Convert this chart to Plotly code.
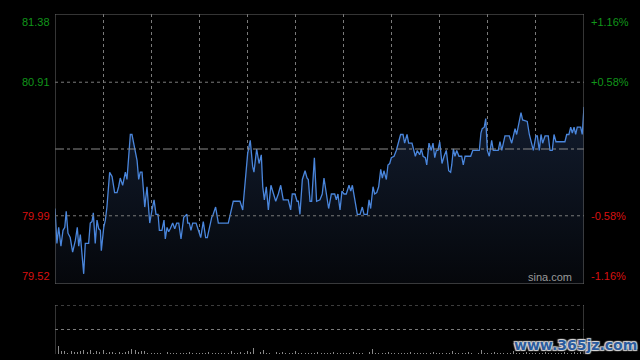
import plotly.graph_objects as go

# ---- data ----
prev_close = 80.45
y_ticks = [81.38, 80.91, 79.99, 79.52]
pct_labels = ["+1.16%", "+0.58%", "-0.58%", "-1.16%"]

minutes = [0, 1.2, 2.3, 3.7, 5.0, 6.1, 7.0, 8.1, 9.5, 11.0, 12.7, 13.9, 14.8, 15.8, 17.9, 18.9, 21.0, 22.0, 23.1, 23.9,
           25.1, 26.2, 27.3, 28.3, 28.9, 30.4, 31.4, 32.4, 34.1, 35.6, 37.2, 38.7, 39.7, 40.7, 42.2, 43.9, 44.9, 47.0, 48.0, 50.1,
           51.2, 52.2, 53.2, 54.3, 56.0, 57.4, 59.1, 60.5, 61.8, 63.0, 64.3, 65.1, 66.7, 68.0, 68.8, 69.9, 70.9, 71.9, 73.4, 74.7,
           75.9, 77.2, 78.6, 80.3, 82.3, 82.8, 83.8, 84.8, 85.9, 88.0, 89.4, 90.9, 92.5, 94.0, 95.0, 97.8, 98.7, 100.2, 101.9, 108.1,
           111.2, 115.4, 117.1, 118.5, 120.2, 121.8, 123.3, 124.1, 125.8, 127.3, 128.7, 129.6, 130.6, 131.8, 133.1, 134.7, 136.2, 137.7, 139.3, 140.8,
           142.4, 145.5, 147.0, 148.0, 149.7, 151.0, 151.8, 152.8, 154.3, 156.0, 157.2, 158.0, 159.1, 160.1, 161.8, 163.2, 165.3, 166.7, 167.8, 169.1,
           170.7, 172.4, 174.5, 175.5, 176.5, 177.8, 179.0, 180.3, 181.7, 183.4, 184.5, 185.5, 187.0, 188.6, 190.3, 191.7, 192.8, 194.8, 195.9, 196.9,
           198.4, 199.4, 200.7, 201.9, 203.2, 204.2, 205.2, 206.7, 207.7, 208.8, 209.8, 211.5, 212.9, 214.0, 215.6, 217.1, 218.1, 219.6, 220.6, 222.7,
           224.8, 226.0, 227.5, 228.5, 229.6, 231.0, 231.9, 233.3, 234.7, 235.8, 236.9, 237.9, 238.9, 240.0, 241.4, 242.7, 244.1, 245.6, 246.8, 247.5,
           248.5, 249.5, 250.6, 252.0, 253.7, 254.7, 255.8, 259.3, 260.6, 264.7, 265.7, 266.5, 267.8, 268.7, 269.7, 270.9, 272.4, 273.4, 276.5, 277.6,
           278.7, 280.7, 283.4, 284.9, 287.0, 288.0, 289.4, 290.7, 291.7, 294.6, 295.9, 297.4, 298.4, 300.0, 300.9, 302.1, 303.2, 304.2, 305.7, 307.7,
           308.8, 310.2, 311.3, 312.5, 318.1, 319.2, 320.6, 321.7, 322.7, 323.8, 324.8, 325.8, 327.9, 328.9, 330]

price = [80.04, 79.80, 79.91, 79.78, 79.89, 79.91, 80.02, 79.87, 79.84, 79.74,
         79.82, 79.91, 79.78, 79.86, 79.59, 79.80, 79.80, 79.94, 79.95, 80.01,
         79.80, 79.96, 79.90, 79.89, 79.75, 79.91, 79.96, 80.05, 80.29, 80.26,
         80.15, 80.15, 80.19, 80.25, 80.20, 80.29, 80.24, 80.55, 80.55, 80.44,
         80.37, 80.24, 80.29, 80.29, 80.05, 80.19, 79.94, 80.03, 80.10, 80.00,
         80.00, 79.89, 79.89, 79.96, 79.83, 79.91, 79.88, 79.90, 79.94, 79.90,
         79.94, 79.94, 79.83, 79.98, 80.00, 79.94, 79.94, 79.89, 79.94, 79.94,
         79.89, 79.84, 79.95, 79.84, 79.84, 79.98, 80.00, 80.05, 79.94, 79.94,
         80.09, 80.09, 80.03, 80.19, 80.42, 80.51, 80.33, 80.29, 80.45, 80.35,
         80.41, 80.19, 80.10, 80.19, 80.03, 80.20, 80.14, 80.09, 80.14, 80.20,
         80.10, 80.10, 80.03, 80.14, 80.14, 80.09, 80.09, 80.00, 80.24, 80.30,
         80.25, 80.24, 80.09, 80.09, 80.39, 80.09, 80.10, 80.14, 80.25, 80.14,
         80.04, 80.14, 80.14, 80.10, 80.14, 80.03, 80.16, 80.14, 80.14, 80.20,
         80.16, 80.20, 80.10, 80.00, 80.00, 80.05, 80.00, 80.00, 80.10, 80.04,
         80.19, 80.14, 80.15, 80.19, 80.31, 80.25, 80.30, 80.24, 80.34, 80.35,
         80.39, 80.40, 80.44, 80.49, 80.55, 80.55, 80.49, 80.55, 80.49, 80.49,
         80.40, 80.44, 80.41, 80.45, 80.40, 80.39, 80.34, 80.49, 80.44, 80.49,
         80.39, 80.44, 80.44, 80.50, 80.35, 80.40, 80.44, 80.30, 80.29, 80.34,
         80.45, 80.40, 80.44, 80.40, 80.40, 80.34, 80.40, 80.40, 80.44, 80.44,
         80.56, 80.59, 80.60, 80.66, 80.44, 80.40, 80.51, 80.44, 80.44, 80.50,
         80.44, 80.54, 80.54, 80.49, 80.59, 80.55, 80.64, 80.70, 80.65, 80.64,
         80.55, 80.48, 80.44, 80.54, 80.54, 80.44, 80.55, 80.49, 80.54, 80.54,
         80.44, 80.44, 80.55, 80.50, 80.50, 80.55, 80.55, 80.60, 80.56, 80.60,
         80.55, 80.60, 80.60, 80.55, 80.74]

# volume every 2 minutes
volume = [2, 8, 3, 3, 1, 3, 2, 2, 3, 4,
          2, 4, 1, 3, 2, 4, 1, 2, 2, 1,
          2, 1, 2, 3, 5, 4, 2, 3, 3, 1,
          1, 1, 1, 1, 1, 2, 1, 1, 1, 1,
          1, 1, 2, 1, 1, 1, 1, 1, 2, 1,
          1, 1, 1, 1, 1, 3, 1, 1, 2, 1,
          3, 2, 6, 1, 2, 4, 1, 1, 1, 2,
          1, 2, 1, 1, 1, 3, 1, 1, 1, 1,
          1, 1, 2, 1, 1, 1, 1, 2, 1, 1,
          1, 1, 1, 2, 1, 1, 1, 1, 2, 5,
          1, 1, 1, 1, 2, 1, 1, 1, 1, 1,
          1, 2, 1, 1, 1, 1, 1, 1, 2, 1,
          1, 1, 1, 1, 3, 1, 1, 1, 1, 2,
          1, 1, 1, 4, 1, 1, 1, 2, 1, 1,
          1, 1, 1, 3, 1, 1, 1, 2, 1, 1,
          1, 1, 1, 2, 1, 1, 1, 1, 1, 2,
          1, 1, 2, 1, 2, 1]
vol_minutes = [2 * i for i in range(len(volume))]

n = min(len(minutes), len(price))
minutes = minutes[:n]
price = price[:n]

GREEN = "#11961a"
RED = "#d81010"
GRID = "#7a7a7a"
BORDER = "#6a6a6a"
LINE = "#4a86dc"

fig = go.Figure()

# baseline for fill
fig.add_trace(go.Scatter(x=[minutes[0], minutes[-1]], y=[y_ticks[-1], y_ticks[-1]], mode="lines",
                         line=dict(width=0), hoverinfo="skip", showlegend=False, xaxis="x", yaxis="y"))
fig.add_trace(go.Scatter(x=minutes, y=price, mode="lines", fill="tonexty",
                         fillgradient=dict(type="vertical",
                                           colorscale=[[0, "#05070b"], [1, "#121c2e"]]),
                         line=dict(color=LINE, width=1.3), showlegend=False, xaxis="x", yaxis="y"))

fig.add_trace(go.Bar(x=vol_minutes, y=volume, marker=dict(color="#8a8a8a", line=dict(width=0)),
                     width=0.6, showlegend=False, xaxis="x2", yaxis="y2"))

fig.update_layout(
    width=640, height=360,
    paper_bgcolor="#000000", plot_bgcolor="#000000",
    margin=dict(l=55, r=56, t=14, b=6),
    bargap=0,
    xaxis=dict(domain=[0, 1], range=[0, 330], dtick=30, tick0=0, showgrid=True, gridcolor=GRID,
               griddash="dot", gridwidth=1, showticklabels=False, zeroline=False, ticks="",
               anchor="y"),
    yaxis=dict(domain=[0.2059, 1], range=[y_ticks[-1], y_ticks[0]], showgrid=False,
               showticklabels=False, zeroline=False, ticks=""),
    xaxis2=dict(domain=[0, 1], range=[0, 330], showgrid=False, showticklabels=False,
                zeroline=False, ticks="", anchor="y2"),
    yaxis2=dict(domain=[0, 0.1441], range=[0, 50], showgrid=False, showticklabels=False,
                zeroline=False, ticks=""),
)

shapes = []
# horizontal grid in price panel
for v in [y_ticks[1], y_ticks[2]]:
    shapes.append(dict(type="line", xref="x", yref="y", x0=0, x1=330, y0=v, y1=v,
                       line=dict(color=GRID, width=1, dash="dot")))
shapes.append(dict(type="line", xref="x", yref="y", x0=0, x1=330, y0=prev_close, y1=prev_close,
                   line=dict(color="#8a8a8a", width=1, dash="dashdot")))
# price frame
shapes.append(dict(type="rect", xref="x", yref="y", x0=0, x1=330, y0=y_ticks[-1], y1=y_ticks[0],
                   line=dict(color=BORDER, width=1)))
# volume panel
for v in [25, 50]:
    shapes.append(dict(type="line", xref="x2", yref="y2", x0=0, x1=330, y0=v, y1=v,
                       line=dict(color=GRID, width=1, dash="dot")))
for xv in [0, 330]:
    shapes.append(dict(type="line", xref="x2", yref="y2", x0=xv, x1=xv, y0=0, y1=50,
                       line=dict(color=BORDER, width=1)))
fig.update_layout(shapes=shapes)

ann = []
anchors = ["top", "middle", "middle", "bottom"]
colors = [GREEN, GREEN, RED, RED]
for v, p, a, c in zip(y_ticks, pct_labels, anchors, colors):
    ann.append(dict(xref="paper", yref="y", x=0, y=v, text=f"{v:.2f}", showarrow=False,
                    xanchor="right", yanchor=a, xshift=-3,
                    font=dict(family="Liberation Sans, Arial", size=11, color=c)))
    ann.append(dict(xref="paper", yref="y", x=1, y=v, text=p, showarrow=False,
                    xanchor="left", yanchor=a, xshift=5,
                    font=dict(family="Liberation Sans, Arial", size=11, color=c)))
ann.append(dict(xref="paper", yref="y", x=1, y=y_ticks[-1], text="sina.com", showarrow=False,
                xanchor="right", yanchor="bottom", xshift=-10, yshift=-1,
                font=dict(family="Liberation Sans, Arial", size=11, color="#9a9a9a")))
ann.append(dict(xref="paper", yref="paper", x=0.983, y=0.026, text="<b>www.365jz.com</b>", showarrow=False,
                xanchor="center", yanchor="middle",
                font=dict(family="DejaVu Sans", size=14, color="#2b5c9e",
                          shadow="1px 1px 1px #d8d8d8, -1px -1px 1px #d8d8d8, 1px -1px 1px #d8d8d8, -1px 1px 1px #d8d8d8")))
fig.update_layout(annotations=ann)

fig.write_html("out.html", config={"displayModeBar": False, "staticPlot": True},
               post_script="document.body.style.margin='0';document.body.style.overflow='hidden';document.body.style.background='#000';")
